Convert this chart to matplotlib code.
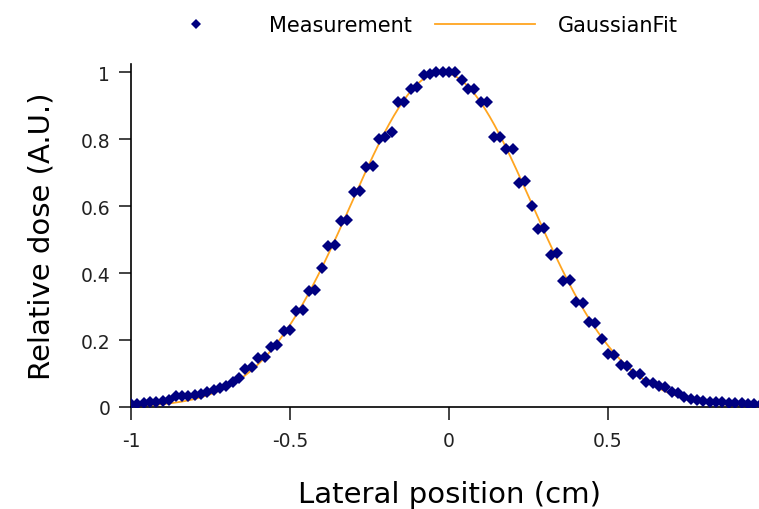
import numpy as np
import matplotlib
matplotlib.use("Agg")
import matplotlib.pyplot as plt

# Measured lateral profile, 0.02 cm steps from -1 to 1
position = np.round(np.arange(-1.0, 1.0001, 0.02), 2)
dose = [
    0.008, 0.010, 0.012, 0.014, 0.016, 0.018, 0.020, 0.032, 0.033, 0.033,
    0.035, 0.038, 0.045, 0.050, 0.058, 0.063, 0.075, 0.086, 0.112, 0.118,
    0.146, 0.150, 0.180, 0.185, 0.227, 0.230, 0.286, 0.290, 0.347, 0.350,
    0.415, 0.480, 0.485, 0.555, 0.558, 0.642, 0.645, 0.716, 0.720, 0.800,
    0.805, 0.820, 0.910, 0.910, 0.950, 0.955, 0.990, 0.995, 1.000, 1.000,
    1.000, 1.000, 0.975, 0.950, 0.950, 0.910, 0.910, 0.805, 0.805, 0.770,
    0.770, 0.670, 0.675, 0.600, 0.530, 0.535, 0.455, 0.460, 0.376, 0.380,
    0.313, 0.310, 0.254, 0.250, 0.203, 0.158, 0.155, 0.125, 0.123, 0.100,
    0.098, 0.075, 0.072, 0.063, 0.060, 0.045, 0.042, 0.030, 0.024, 0.020,
    0.018, 0.016, 0.015, 0.014, 0.013, 0.012, 0.011, 0.010, 0.009, 0.008,
    0.007,
]
dose = np.array(dose)

# Gaussian fit (weighted log-parabola fit on the measurement)
mask = dose > 0.05
c2, c1, c0 = np.polyfit(position[mask], np.log(dose[mask]), 2, w=dose[mask])
mu = -c1 / (2 * c2)
sigma = np.sqrt(-1 / (2 * c2))
amp = np.exp(c0 - c1**2 / (4 * c2))
xfit = np.linspace(-1, 1, 400)
yfit = amp * np.exp(-(xfit - mu) ** 2 / (2 * sigma**2))

plt.rcParams['font.family'] = ['DejaVu Sans']

fig = plt.figure(figsize=(7.59, 5.10), dpi=100)
ax = fig.add_axes([131 / 759, 102 / 510, 636 / 759, 343 / 510])

ax.plot(xfit, yfit, color="#FFA520", lw=1.3, label="GaussianFit", zorder=2)
ax.plot(position, dose, linestyle="none", marker="D", markersize=6.5,
        color="#000080", markeredgewidth=0, label="Measurement", zorder=3)

ax.set_xlim(-1, 1)
ax.set_ylim(0, 1.024)
ax.set_xticks([-1, -0.5, 0, 0.5, 1])
ax.set_xticklabels(["-1", "-0.5", "0", "0.5", "1"])
ax.set_yticks([0, 0.2, 0.4, 0.6, 0.8, 1])
ax.set_yticklabels(["0", "0.2", "0.4", "0.6", "0.8", "1"])

for side in ("top", "right"):
    ax.spines[side].set_visible(False)
for side in ("left", "bottom"):
    ax.spines[side].set_linewidth(1.2)
ax.tick_params(direction="out", length=9, width=1.2, labelsize=13.5, colors="#222222")
ax.tick_params(axis="x", pad=8)
ax.tick_params(axis="y", pad=6)

ax.set_xlabel("Lateral position (cm)", fontsize=21, labelpad=22)
ax.set_ylabel("Relative dose (A.U.)", fontsize=21, labelpad=18)

handles, labels = ax.get_legend_handles_labels()
fig.legend(handles[::-1], labels[::-1], loc="upper center",
           bbox_to_anchor=(0.543, 1.005), ncol=2, frameon=False,
           fontsize=15, handlelength=4.8, columnspacing=1.1,
           handletextpad=1.1, markerscale=0.75)

fig.savefig("out.png", dpi=100)
